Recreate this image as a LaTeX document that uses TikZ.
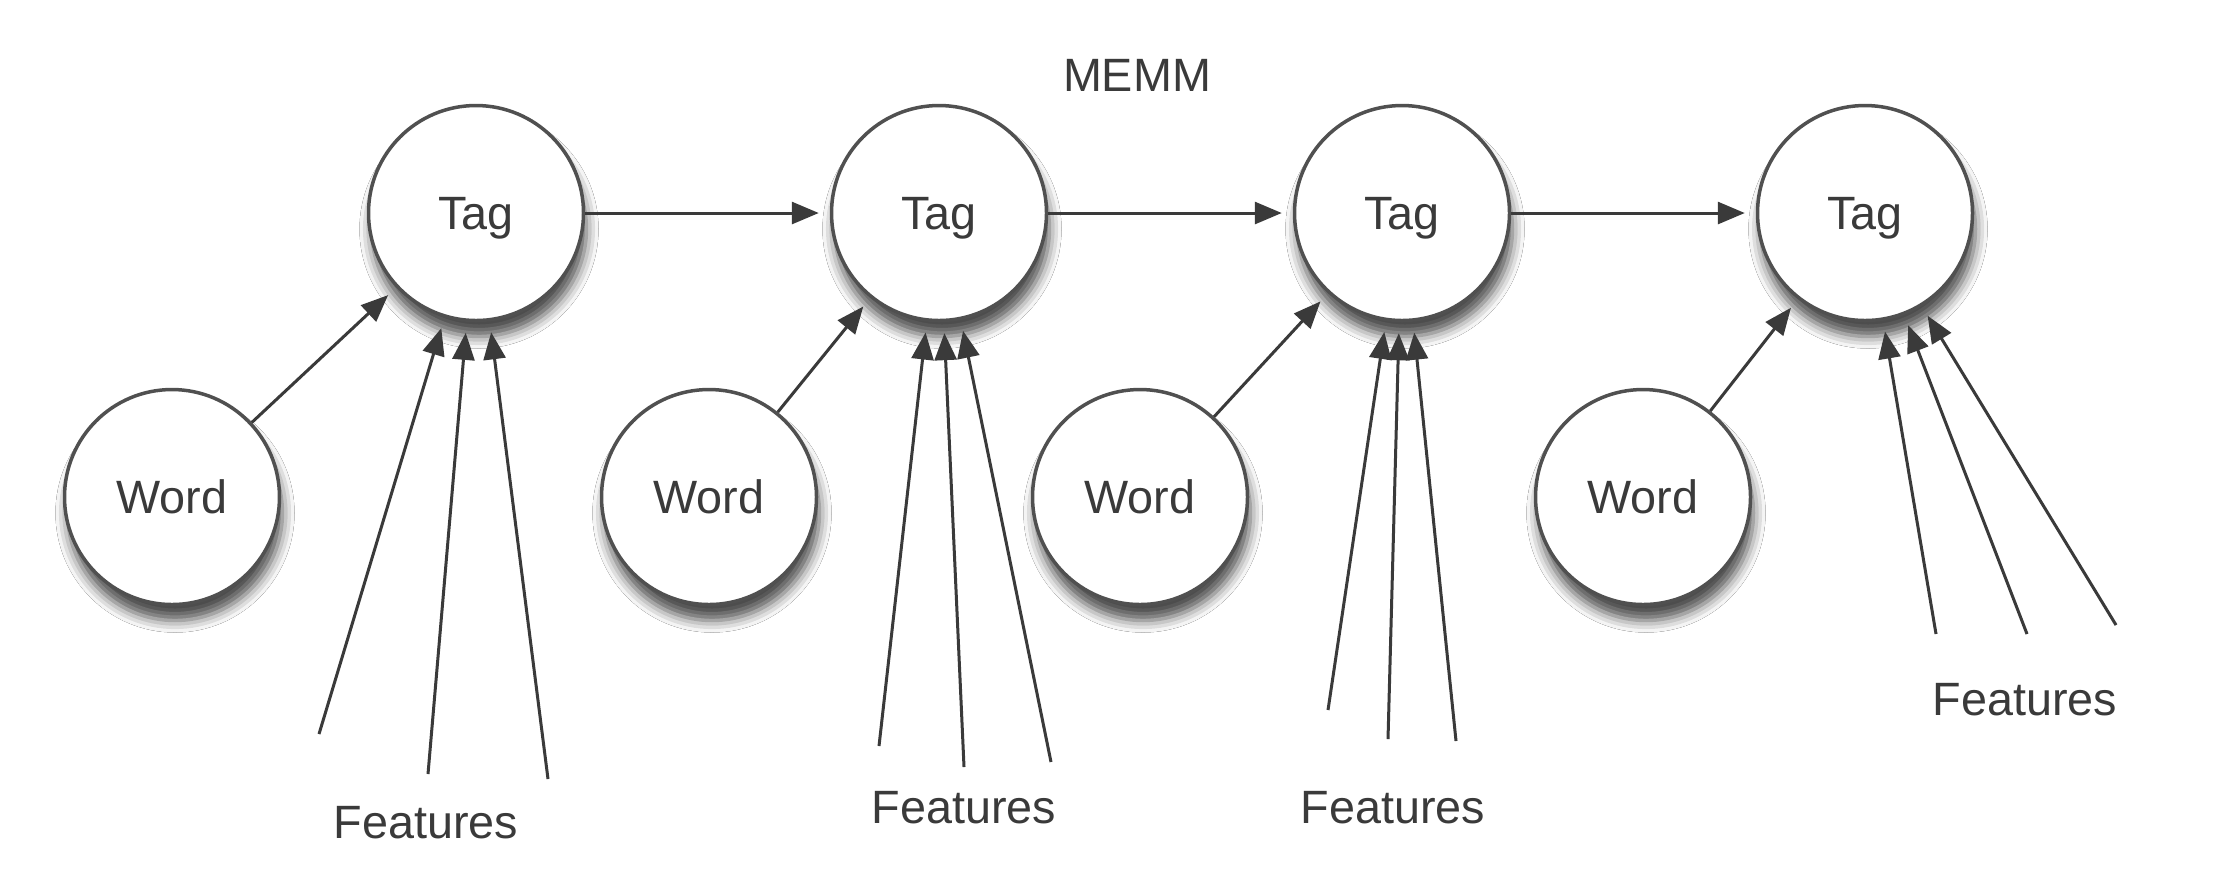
\documentclass[tikz,border=0pt]{standalone}
\usepackage{fontspec}
\setmainfont{Liberation Sans}
\usetikzlibrary{arrows.meta,shadows.blur}
\definecolor{ink}{HTML}{3A3A3A}
\definecolor{rim}{HTML}{505050}

\begin{document}
\begin{tikzpicture}[x=0.1mm,y=-0.1mm,
    bubble/.style={circle,draw=rim,line width=0.35mm,fill=white,minimum size=21.5mm,inner sep=0pt,
      text=ink,font=\fontsize{13.3}{16}\selectfont,text depth=0pt,
      blur shadow={shadow xshift=0.3mm,shadow yshift=-1.6mm,shadow blur radius=1.2mm,shadow opacity=70}},
    txt/.style={text=ink,font=\fontsize{13.3}{16}\selectfont,inner sep=0pt},
    every edge/.style={draw=ink,line width=0.3mm,-{Triangle[length=2.7mm,width=2.2mm]},shorten >=1.1mm}]
  \fill[white] (0,0) rectangle (2216,884);
  \useasboundingbox (0,0) rectangle (2216,884);
  \node[txt] (Title) at (1137,75) {MEMM};
  \node[bubble] (T1) at (476,213) {Tag};
  \node[bubble] (T2) at (939,213) {Tag};
  \node[bubble] (T3) at (1402,213) {Tag};
  \node[bubble] (T4) at (1865,213) {Tag};
  \node[bubble] (W1) at (172,497) {Word};
  \node[bubble] (W2) at (709,497) {Word};
  \node[bubble] (W3) at (1140,497) {Word};
  \node[bubble] (W4) at (1643,497) {Word};
  \coordinate (F1a) at (319,734);
  \coordinate (F1b) at (428,774);
  \coordinate (F1c) at (548,779);
  \coordinate (F2a) at (879,746);
  \coordinate (F2b) at (964,767);
  \coordinate (F2c) at (1051,762);
  \coordinate (F3a) at (1328,710);
  \coordinate (F3b) at (1388,739);
  \coordinate (F3c) at (1456,741);
  \coordinate (F4a) at (1936,634);
  \coordinate (F4b) at (2027,634);
  \coordinate (F4c) at (2116,625);
  \node[txt] (L1) at (426,823) {Features};
  \node[txt] (L2) at (964,808) {Features};
  \node[txt] (L3) at (1393,808) {Features};
  \node[txt] (L4) at (2025,700) {Features};
  \path (T1) edge (T2) (T2) edge (T3) (T3) edge (T4);
  \path (W1) edge (T1) (W2) edge (T2) (W3) edge (T3) (W4) edge (T4);
  \path (F1a) edge (T1) (F1b) edge (T1) (F1c) edge (T1);
  \path (F2a) edge (T2) (F2b) edge (T2) (F2c) edge (T2);
  \path (F3a) edge (T3) (F3b) edge (T3) (F3c) edge (T3);
  \path (F4a) edge (T4) (F4b) edge (T4) (F4c) edge (T4);
\end{tikzpicture}
\end{document}
